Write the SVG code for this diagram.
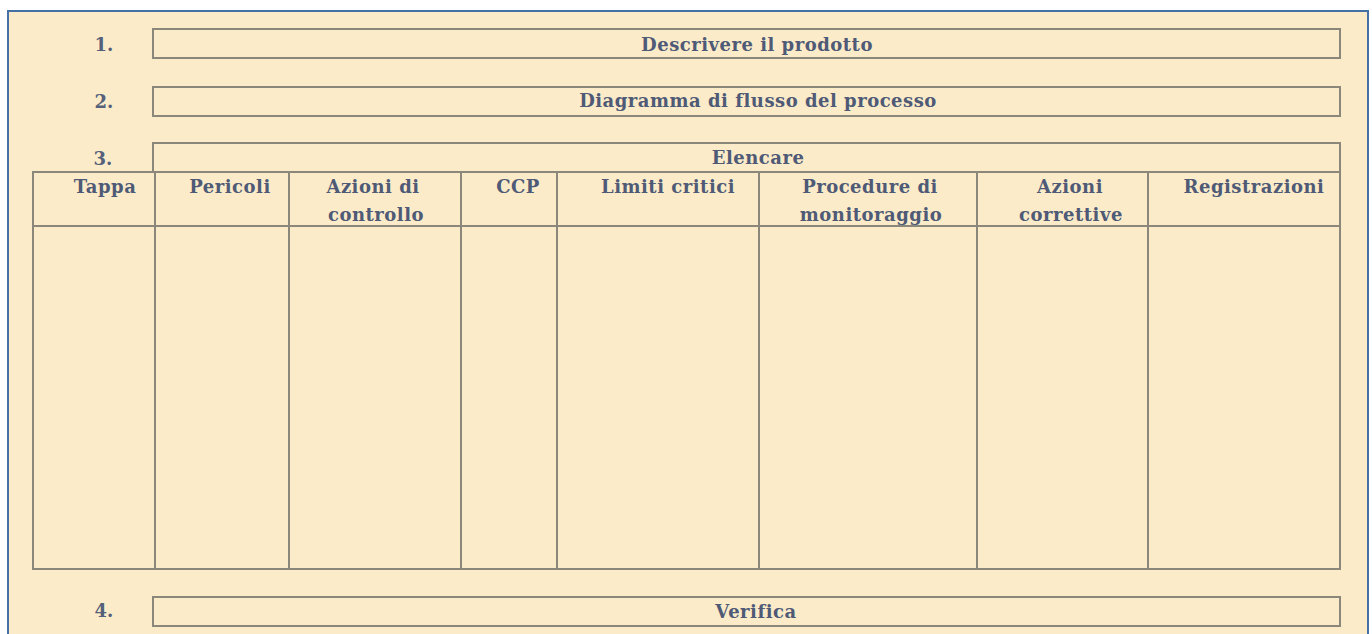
<svg xmlns="http://www.w3.org/2000/svg" width="1372" height="634" viewBox="0 0 1372 634">
<style>
.t{font-family:"DejaVu Serif",serif;font-weight:bold;font-size:18px;letter-spacing:0.5px;fill:#4e5a76;text-anchor:middle}
.n{font-family:"DejaVu Serif",serif;font-weight:bold;font-size:18px;fill:#55607a;text-anchor:middle}
.b{fill:none;stroke:#8b877a;stroke-width:2}
</style>
<rect x="0" y="0" width="1372" height="634" fill="#ffffff"/>
<rect id="frame" x="8" y="11" width="1360" height="640" fill="#fcebc9" stroke="#4470a6" stroke-width="2"/>
<g id="step1">
<text class="n" x="104" y="51">1.</text>
<rect class="b" x="153" y="29" width="1187" height="29"/>
<text class="t" x="757" y="51">Descrivere il prodotto</text>
</g>
<g id="step2">
<text class="n" x="104" y="108">2.</text>
<rect class="b" x="153" y="87" width="1187" height="29"/>
<text class="t" x="758" y="107">Diagramma di flusso del processo</text>
</g>
<g id="step3">
<text class="n" x="103" y="165">3.</text>
<path class="b" d="M153,172 V143 H1340 V172"/>
<text class="t" x="758" y="164">Elencare</text>
</g>
<g id="table">
<rect class="b" x="33" y="172" width="1307" height="397"/>
<line class="b" x1="33" y1="226" x2="1340" y2="226"/>
<line class="b" x1="155" y1="172" x2="155" y2="569"/>
<line class="b" x1="289" y1="172" x2="289" y2="569"/>
<line class="b" x1="461" y1="172" x2="461" y2="569"/>
<line class="b" x1="557" y1="172" x2="557" y2="569"/>
<line class="b" x1="759" y1="172" x2="759" y2="569"/>
<line class="b" x1="977" y1="172" x2="977" y2="569"/>
<line class="b" x1="1148" y1="172" x2="1148" y2="569"/>
<text class="t" x="105" y="193">Tappa</text>
<text class="t" x="230" y="193">Pericoli</text>
<text class="t" x="373" y="193">Azioni di</text>
<text class="t" x="376" y="221">controllo</text>
<text class="t" x="518" y="193">CCP</text>
<text class="t" x="668" y="193">Limiti critici</text>
<text class="t" x="870" y="193">Procedure di</text>
<text class="t" x="871" y="221">monitoraggio</text>
<text class="t" x="1070" y="193">Azioni</text>
<text class="t" x="1071" y="221">correttive</text>
<text class="t" x="1254" y="193">Registrazioni</text>
</g>
<g id="step4">
<text class="n" x="104" y="617">4.</text>
<rect class="b" x="153" y="597" width="1187" height="29"/>
<text class="t" x="756" y="618">Verifica</text>
</g>
</svg>
